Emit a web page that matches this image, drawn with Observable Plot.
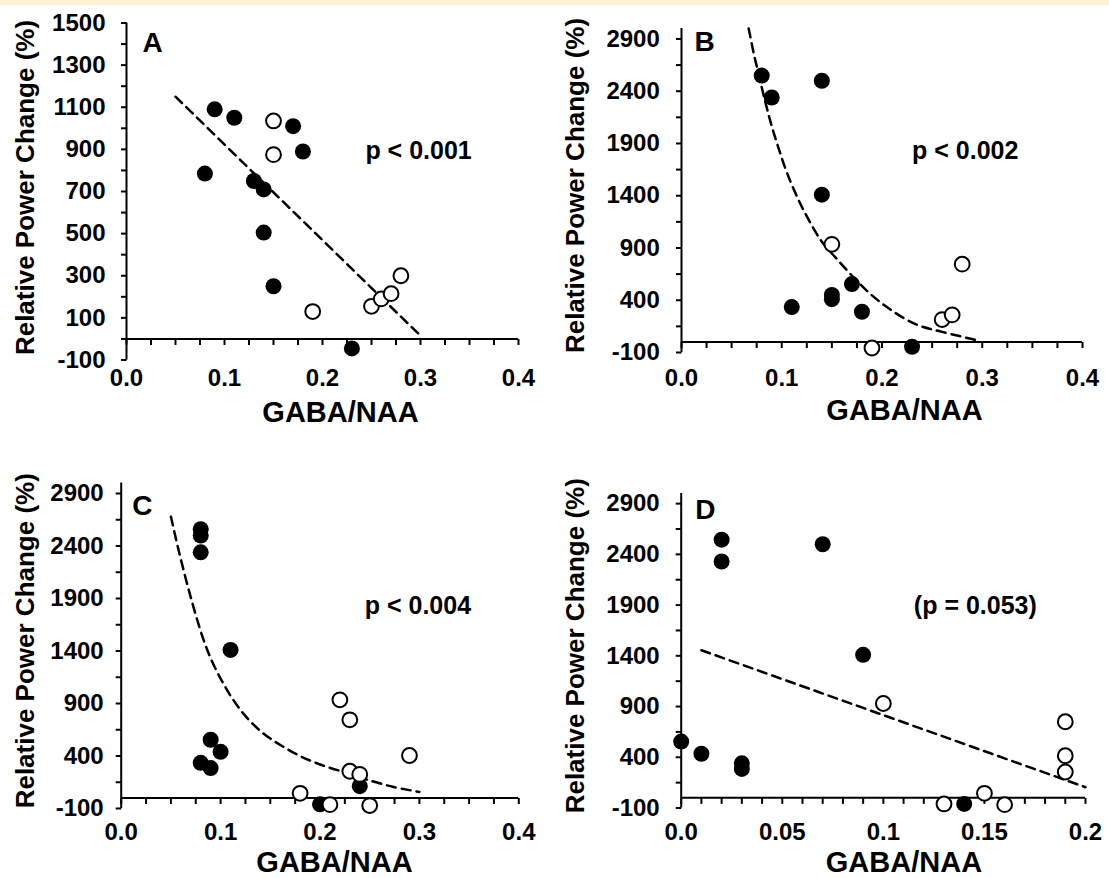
<!DOCTYPE html>
<html>
<head>
<meta charset="utf-8">
<script src="https://cdn.jsdelivr.net/npm/d3@7"></script>
<script src="https://cdn.jsdelivr.net/npm/@observablehq/plot@0.6"></script>
<style>
  body { margin: 0; background: #fff; }
  #wrap { position: relative; width: 1109px; height: 878px; overflow: hidden; background: #fff; }
  #band { position: absolute; left: 0; top: 0; width: 1109px; height: 5px; background: #fcf4d6; z-index: 2; }
  #wrap svg { position: absolute; }
</style>
</head>
<body>
<div id="wrap"><div id="band"></div></div>
<script>
const FONT = '"Liberation Sans", Arial, Helvetica, sans-serif';

// ---------- shared tick / label data ----------
const xTicks04 = [0, 0.025, 0.05, 0.075, 0.1, 0.125, 0.15, 0.175, 0.2, 0.225, 0.25, 0.275, 0.3, 0.325, 0.35, 0.375, 0.4];
const xLabels04 = [0, 0.1, 0.2, 0.3, 0.4];
const xLabelText04 = ["0.0", "0.1", "0.2", "0.3", "0.4"];
const xTicks02 = [0, 0.01, 0.02, 0.03, 0.04, 0.05, 0.06, 0.07, 0.08, 0.09, 0.1, 0.11, 0.12, 0.13, 0.14, 0.15, 0.16, 0.17, 0.18, 0.19, 0.2];
const xLabels02 = [0, 0.05, 0.1, 0.15, 0.2];
const xLabelText02 = ["0.0", "0.05", "0.1", "0.15", "0.2"];
const yTicksA = [-100, 0, 100, 200, 300, 400, 500, 600, 700, 800, 900, 1000, 1100, 1200, 1300, 1400, 1500];
const yLabelsA = [-100, 100, 300, 500, 700, 900, 1100, 1300, 1500];
const yTicksBCD = [-100, 150, 400, 650, 900, 1150, 1400, 1650, 1900, 2150, 2400, 2650, 2900];
const yLabelsBCD = [-100, 400, 900, 1400, 1900, 2400, 2900];
const yTitle = "Relative Power Change (%)";
const xTitle = "GABA/NAA";

// ---------- Panel A ----------
const aFilledX = [0.09, 0.11, 0.17, 0.18, 0.08, 0.13, 0.14, 0.14, 0.15, 0.23];
const aFilledY = [1090, 1050, 1010, 890, 785, 750, 710, 505, 250, -45];
const aOpenX = [0.15, 0.15, 0.19, 0.25, 0.26, 0.27, 0.28];
const aOpenY = [1035, 875, 130, 155, 190, 215, 300];
const aFitX = [0.05, 0.30];
const aFitY = [1150, 15];

// ---------- Panel B ----------
const bFilledX = [0.08, 0.09, 0.14, 0.14, 0.17, 0.15, 0.15, 0.11, 0.18, 0.23];
const bFilledY = [2550, 2340, 2500, 1410, 555, 450, 410, 335, 290, -45];
const bOpenX = [0.15, 0.28, 0.26, 0.27, 0.19];
const bOpenY = [935, 745, 215, 260, -57];
const bFitX = [0.067, 0.072, 0.077, 0.083, 0.089, 0.096, 0.105, 0.116, 0.126, 0.140, 0.154, 0.172, 0.189, 0.210, 0.235, 0.259, 0.298];
const bFitY = [3000, 2765, 2560, 2320, 2100, 1880, 1625, 1375, 1185, 960, 805, 615, 455, 300, 165, 100, 10];

// ---------- Panel C ----------
const cFilledX = [0.08, 0.08, 0.08, 0.11, 0.09, 0.10, 0.08, 0.09, 0.24, 0.20];
const cFilledY = [2560, 2500, 2340, 1410, 555, 440, 335, 285, 113, -60];
const cOpenX = [0.22, 0.23, 0.29, 0.23, 0.24, 0.18, 0.21, 0.25];
const cOpenY = [935, 745, 405, 255, 225, 45, -63, -72];
const cFitX = [0.05, 0.057, 0.069, 0.082, 0.091, 0.101, 0.112, 0.126, 0.143, 0.161, 0.182, 0.203, 0.228, 0.249, 0.274, 0.30];
const cFitY = [2680, 2390, 1945, 1530, 1310, 1120, 945, 770, 615, 500, 390, 310, 235, 170, 105, 58];

// ---------- Panel D ----------
const dFilledX = [0.02, 0.02, 0.07, 0.09, 0.00, 0.01, 0.03, 0.03, 0.14];
const dFilledY = [2545, 2330, 2500, 1410, 555, 435, 340, 285, -60];
const dOpenX = [0.10, 0.19, 0.19, 0.19, 0.15, 0.13, 0.16];
const dOpenY = [930, 750, 415, 255, 45, -60, -67];
const dFitX = [0.01, 0.20];
const dFitY = [1455, 105];

// ---------- annotations ----------
const letters = ["A", "B", "C", "D"];
const pTexts = ["p < 0.001", "p < 0.002", "p < 0.004", "(p = 0.053)"];
const pXs = [0.298, 0.283, 0.2985, 0.1455];
const pYs = [890, 1826, 1826, 1891];

const pts = (xs, ys) => xs.map((x, i) => ({x, y: ys[i]}));

const tickDown = {draw(ctx) { ctx.moveTo(0, 0); ctx.lineTo(0, 6); }};
const tickLeft = {draw(ctx) { ctx.moveTo(0, 0); ctx.lineTo(-5.5, 0); }};

function panel(c) {
  const xFmt = new Map(c.xLabels.map((v, i) => [v, c.xLabelText[i]]));
  const svg = Plot.plot({
    width: c.width, height: c.height,
    marginLeft: c.ml, marginRight: c.mr, marginTop: c.mt, marginBottom: c.mb,
    style: {fontFamily: FONT, fontSize: "24px", fontWeight: "bold", color: "#000", background: "transparent"},
    x: {domain: c.xDomain, ticks: c.xLabels, tickFormat: d => xFmt.get(d), tickSize: 0, tickPadding: c.xPad, label: null},
    y: {domain: c.yDomain, ticks: c.yLabels, tickFormat: d => String(d), tickSize: 0, tickPadding: c.yPad, label: null},
    marks: [
      Plot.ruleX([c.xDomain[0]], {y1: c.yDomain[0], y2: c.yDomain[1], stroke: "#000", strokeWidth: 2}),
      Plot.ruleY([0], {x1: c.xDomain[0], x2: c.xDomain[1], stroke: "#000", strokeWidth: 2}),
      Plot.dot(c.xTicks, {x: d => d, y: () => 0, symbol: tickDown, fill: "none", stroke: "#000", strokeWidth: 2}),
      Plot.dot(c.yTicks, {x: () => c.xDomain[0], y: d => d, symbol: tickLeft, fill: "none", stroke: "#000", strokeWidth: 2}),
      Plot.line(c.fit, {x: "x", y: "y", curve: c.curve, stroke: "#000", strokeWidth: 2.5, strokeDasharray: "9,6"}),
      Plot.dot(c.filled, {x: "x", y: "y", r: 8, fill: "#000", stroke: "none"}),
      Plot.dot(c.open, {x: "x", y: "y", r: 7.4, fill: "#fff", stroke: "#000", strokeWidth: 2}),
      Plot.text([c.letter], {text: d => d, frameAnchor: "top-left", dx: c.letterDx, dy: c.letterDy, textAnchor: "start", lineAnchor: "top", fontSize: 28, fill: "#000"}),
      Plot.text([c.pText], {text: d => d, x: () => c.pX, y: () => c.pY, textAnchor: "middle", lineAnchor: "middle", fontSize: 25, fill: "#000"}),
      Plot.text([yTitle], {text: d => d, frameAnchor: "left", rotate: -90, dx: c.yTitleDx, dy: c.yTitleDy, textAnchor: "middle", lineAnchor: "middle", fontSize: 26, fill: "#000"}),
      Plot.text([xTitle], {text: d => d, frameAnchor: "bottom", dx: c.xTitleDx, dy: c.xTitleDy, textAnchor: "middle", lineAnchor: "middle", fontSize: 29, fill: "#000"})
    ]
  });
  svg.style.left = c.left + "px";
  svg.style.top = c.top + "px";
  document.getElementById("wrap").appendChild(svg);
}

panel({
  left: 0, top: 0, width: 550, height: 440, ml: 126, mr: 32, mt: 22.5, mb: 80.5,
  xDomain: [0, 0.4], yDomain: [-100, 1500],
  xTicks: xTicks04, xLabels: xLabels04, xLabelText: xLabelText04,
  yTicks: yTicksA, yLabels: yLabelsA, xPad: 9, yPad: 21,
  filled: pts(aFilledX, aFilledY), open: pts(aOpenX, aOpenY), fit: pts(aFitX, aFitY), curve: "linear",
  letter: letters[0], letterDx: 16, letterDy: 9.5,
  pText: pTexts[0], pX: pXs[0], pY: pYs[0],
  yTitleDx: -101, yTitleDy: -4, xTitleDx: 18, xTitleDy: 52.5
});

panel({
  left: 554, top: 0, width: 555, height: 440, ml: 127, mr: 27, mt: 28, mb: 88,
  xDomain: [0, 0.4], yDomain: [-100, 3000],
  xTicks: xTicks04, xLabels: xLabels04, xLabelText: xLabelText04,
  yTicks: yTicksBCD, yLabels: yLabelsBCD, xPad: 16.3, yPad: 21.7,
  filled: pts(bFilledX, bFilledY), open: pts(bOpenX, bOpenY), fit: pts(bFitX, bFitY), curve: "catmull-rom",
  letter: letters[1], letterDx: 13, letterDy: 3,
  pText: pTexts[1], pX: pXs[1], pY: pYs[1],
  yTitleDx: -106, yTitleDy: -5, xTitleDx: 22.5, xTitleDy: 58
});

panel({
  left: 0, top: 440, width: 550, height: 438, ml: 120.7, mr: 31.7, mt: 42.5, mb: 70,
  xDomain: [0, 0.4], yDomain: [-100, 3000],
  xTicks: xTicks04, xLabels: xLabels04, xLabelText: xLabelText04,
  yTicks: yTicksBCD, yLabels: yLabelsBCD, xPad: 14.5, yPad: 17.5,
  filled: pts(cFilledX, cFilledY), open: pts(cOpenX, cOpenY), fit: pts(cFitX, cFitY), curve: "catmull-rom",
  letter: letters[2], letterDx: 11, letterDy: 12.5,
  pText: pTexts[2], pX: pXs[2], pY: pYs[2],
  yTitleDx: -95.7, yTitleDy: -5, xTitleDx: 14.5, xTitleDy: 54.5
});

panel({
  left: 554, top: 440, width: 555, height: 438, ml: 126.7, mr: 24, mt: 53, mb: 70.5,
  xDomain: [0, 0.2], yDomain: [-100, 3000],
  xTicks: xTicks02, xLabels: xLabels02, xLabelText: xLabelText02,
  yTicks: yTicksBCD, yLabels: yLabelsBCD, xPad: 15.3, yPad: 21.5,
  filled: pts(dFilledX, dFilledY), open: pts(dOpenX, dOpenY), fit: pts(dFitX, dFitY), curve: "linear",
  letter: letters[3], letterDx: 14, letterDy: 6,
  pText: pTexts[3], pX: pXs[3], pY: pYs[3],
  yTitleDx: -106, yTitleDy: -5, xTitleDx: 20.6, xTitleDy: 55
});
</script>
</body>
</html>
